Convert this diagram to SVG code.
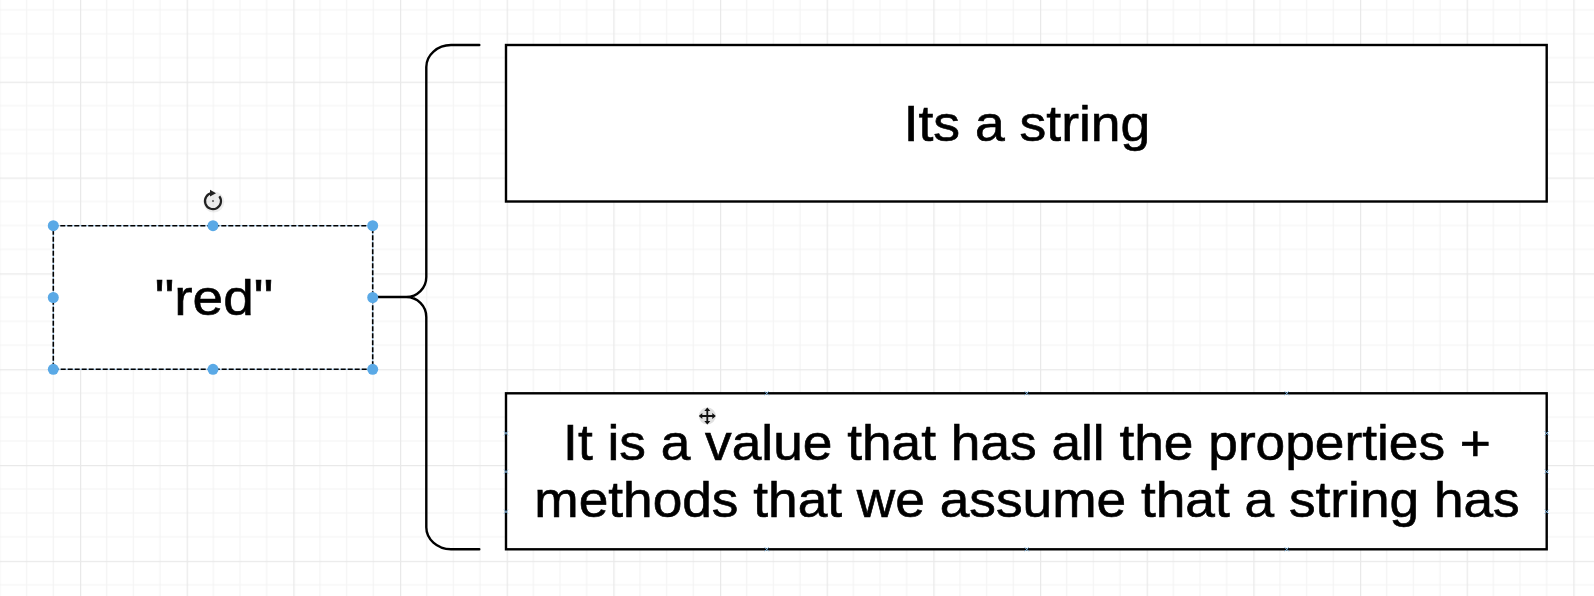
<svg xmlns="http://www.w3.org/2000/svg" width="1594" height="596" viewBox="0 0 1594 596">
  <defs>
    <pattern id="grid" patternUnits="userSpaceOnUse" x="80" y="81.7" width="106.667" height="95.83">
      <path d="M26.667 0V95.83M53.333 0V95.83M80 0V95.83M0 23.96H106.667M0 47.92H106.667M0 71.87H106.667" stroke="#f4f4f4" stroke-width="1.2" fill="none"/>
      <path d="M0.6 0V95.83M0 0.6H106.667" stroke="#e9e9e9" stroke-width="1.3" fill="none"/>
    </pattern>
    <style>
      .box{fill:#ffffff;stroke:#000000;stroke-width:2.4}
      .lbl{font-family:"Liberation Sans",Arial,Helvetica,sans-serif;font-size:50px;fill:#000000;stroke:#000000;stroke-width:0.6;text-anchor:middle}
      .handle{fill:#5aa9e6}
      .cp{stroke:#7fb3dc;stroke-width:1;fill:none}
      .brace{fill:none;stroke:#000000;stroke-width:2.4;stroke-linecap:round}
    </style>
  </defs>
  <rect width="1594" height="596" fill="#ffffff"/>
  <rect width="1594" height="596" fill="url(#grid)"/>

  <g id="connectors">
    <path class="brace" d="M479.3 45 H451 A25 22 0 0 0 426.3 67 V277 A20 20 0 0 1 406.3 297 H373 M406.3 297 A20 20 0 0 1 426.3 317 V527 A25 22 0 0 0 451 549.3 H479.3"/>
  </g>

  <g id="node-red">
    <rect x="53.3" y="225.7" width="319.4" height="143.6" fill="#ffffff" stroke="#9cc9ef" stroke-width="1"/>
    <rect x="53.3" y="225.7" width="319.4" height="143.6" fill="none" stroke="#000000" stroke-width="1.6" stroke-dasharray="5 2"/>
    <g transform="translate(214,0) scale(1.1,1)">
      <text class="lbl" x="0" y="315" font-size="51">"red"</text>
    </g>
    <circle class="handle" cx="53.3" cy="225.7" r="5.5"/>
    <circle class="handle" cx="213" cy="225.7" r="5.5"/>
    <circle class="handle" cx="372.7" cy="225.7" r="5.5"/>
    <circle class="handle" cx="53.3" cy="297.5" r="5.5"/>
    <circle class="handle" cx="372.7" cy="297.5" r="5.5"/>
    <circle class="handle" cx="53.3" cy="369.3" r="5.5"/>
    <circle class="handle" cx="213" cy="369.3" r="5.5"/>
    <circle class="handle" cx="372.7" cy="369.3" r="5.5"/>
    <g id="rotate-icon" transform="translate(213,201)">
      <circle cx="0.8" cy="1" r="10.5" fill="#000000" opacity="0.07"/>
      <path d="M-1.2 -7.8 A8 8 0 1 0 6.3 -4.8" fill="none" stroke="#222222" stroke-width="2.2"/>
      <path d="M-3 -11.2 L3 -7.8 L-3 -4.4 Z" fill="#222222"/>
      <circle cx="0" cy="0" r="1" fill="#555555"/>
    </g>
  </g>

  <g id="node-string">
    <rect class="box" x="506" y="45" width="1040.7" height="156.5"/>
    <g transform="translate(1027,0) scale(1.07,1)">
      <text class="lbl" x="0" y="141">Its a string</text>
    </g>
  </g>

  <g id="node-value">
    <rect class="box" x="506" y="393.3" width="1040.7" height="156"/>
    <g transform="translate(1027,0) scale(1.065,1)">
      <text class="lbl" x="0" y="460">It is a value that has all the properties +</text>
      <text class="lbl" x="0" y="517.5">methods that we assume that a string has</text>
    </g>
    <path class="cp" d="M764.7 391.3l4 4m0 -4l-4 4M1024.7 391.3l4 4m0 -4l-4 4M1284.7 391.3l4 4m0 -4l-4 4M764.7 547.3l4 4m0 -4l-4 4M1024.7 547.3l4 4m0 -4l-4 4M1284.7 547.3l4 4m0 -4l-4 4M504 431.3l4 4m0 -4l-4 4M504 469.7l4 4m0 -4l-4 4M504 509.7l4 4m0 -4l-4 4M1544.7 431.3l4 4m0 -4l-4 4M1544.7 469.7l4 4m0 -4l-4 4M1544.7 509.7l4 4m0 -4l-4 4"/>
    <g id="move-cursor" transform="translate(707.3,416)">
      <circle r="8.5" fill="#000000" opacity="0.12"/>
      <path d="M0 -7V7M-7 0H7" stroke="#111111" stroke-width="1.8"/>
      <path d="M0 -8.5l-3 3.5h6zM0 8.5l-3 -3.5h6zM-8.5 0l3.5 -3v6zM8.5 0l-3.5 -3v6z" fill="#111111"/>
    </g>
  </g>
</svg>
